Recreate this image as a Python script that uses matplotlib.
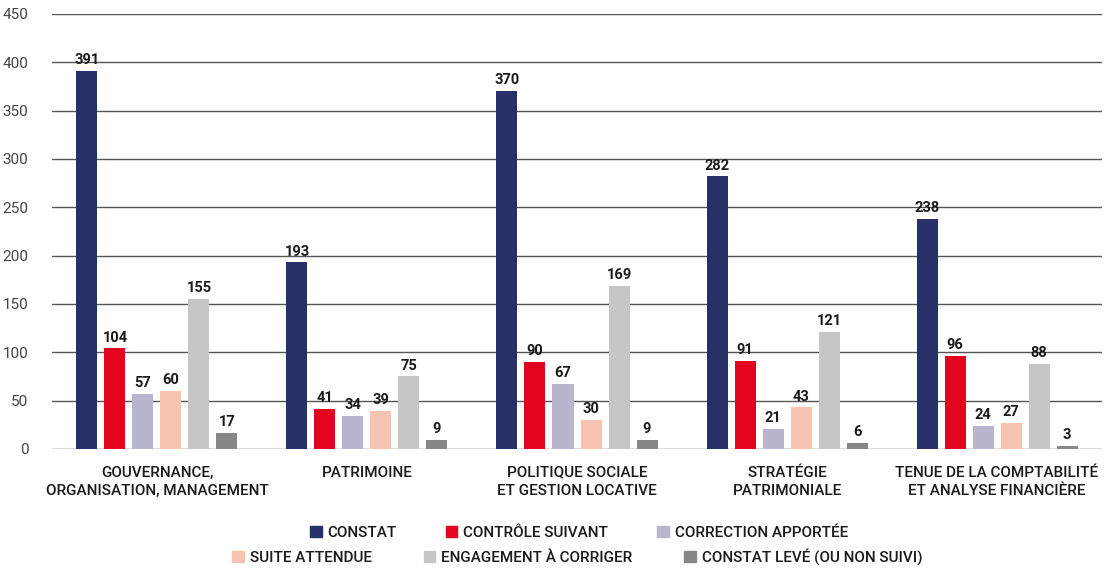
import numpy as np
import matplotlib.pyplot as plt
from matplotlib.patches import Patch

plt.rcParams['font.family'] = ['Roboto', 'DejaVu Sans']

categories = ["GOUVERNANCE,\nORGANISATION, MANAGEMENT", "PATRIMOINE",
              "POLITIQUE SOCIALE\nET GESTION LOCATIVE", "STRATÉGIE\nPATRIMONIALE",
              "TENUE DE LA COMPTABILITÉ\nET ANALYSE FINANCIÈRE"]
series_names = ["CONSTAT", "CONTRÔLE SUIVANT", "CORRECTION APPORTÉE",
                "SUITE ATTENDUE", "ENGAGEMENT À CORRIGER", "CONSTAT LEVÉ (OU NON SUIVI)"]
constat = [391, 193, 370, 282, 238]
controle = [104, 41, 90, 91, 96]
correction = [57, 34, 67, 21, 24]
suite = [60, 39, 30, 43, 27]
engagement = [155, 75, 169, 121, 88]
leve = [17, 9, 9, 6, 3]
colors = ["#283069", "#E3051F", "#B8B5CF", "#F7C4B1", "#C6C6C6", "#878787"]

series = [constat, controle, correction, suite, engagement, leve]

fig = plt.figure(figsize=(11.06, 5.69), dpi=100)
ax = fig.add_axes([0.047, 0.2109, 0.9494, 0.7645])

x = np.arange(len(categories))
step = 28 / 210
width = 21 / 210
for i, (vals, col) in enumerate(zip(series, colors)):
    pos = x + (i - 2.5) * step
    ax.bar(pos, vals, width=width, color=col, zorder=3)
    for p, v in zip(pos, vals):
        ax.text(p, v + 4, str(v), ha='center', va='bottom', fontsize=10.5,
                fontweight='bold', color='#1a1a1a', zorder=4)

ax.set_xlim(-0.5, 4.5)
ax.set_ylim(0, 450)
ax.set_yticks(range(0, 451, 50))
ax.yaxis.grid(True, color='#555555', linewidth=1, zorder=0)
for s in ax.spines.values():
    s.set_visible(False)
ax.tick_params(axis='y', length=0, pad=17, labelsize=11, labelcolor='#444444')
ax.set_xticks(x)
ax.set_xticklabels(categories, fontsize=11, fontweight='medium', color='#1a1a1a',
                   linespacing=1.35)
ax.tick_params(axis='x', length=0, pad=12)

handles = [Patch(color=c, label=n) for c, n in zip(colors, series_names)]
kw = dict(frameon=False, ncol=3, prop={'size': 11, 'weight': 'medium'},
          labelcolor='#1a1a1a', handlelength=0.75, handleheight=0.75,
          handletextpad=0.4, borderaxespad=0)
fig.legend(handles=handles[:3], loc='center', bbox_to_anchor=(0.5235, 0.064),
           columnspacing=3.2, **kw)
fig.legend(handles=handles[3:], loc='center', bbox_to_anchor=(0.522, 0.021),
           columnspacing=3.4, **kw)

fig.savefig("out.png", dpi=100)
